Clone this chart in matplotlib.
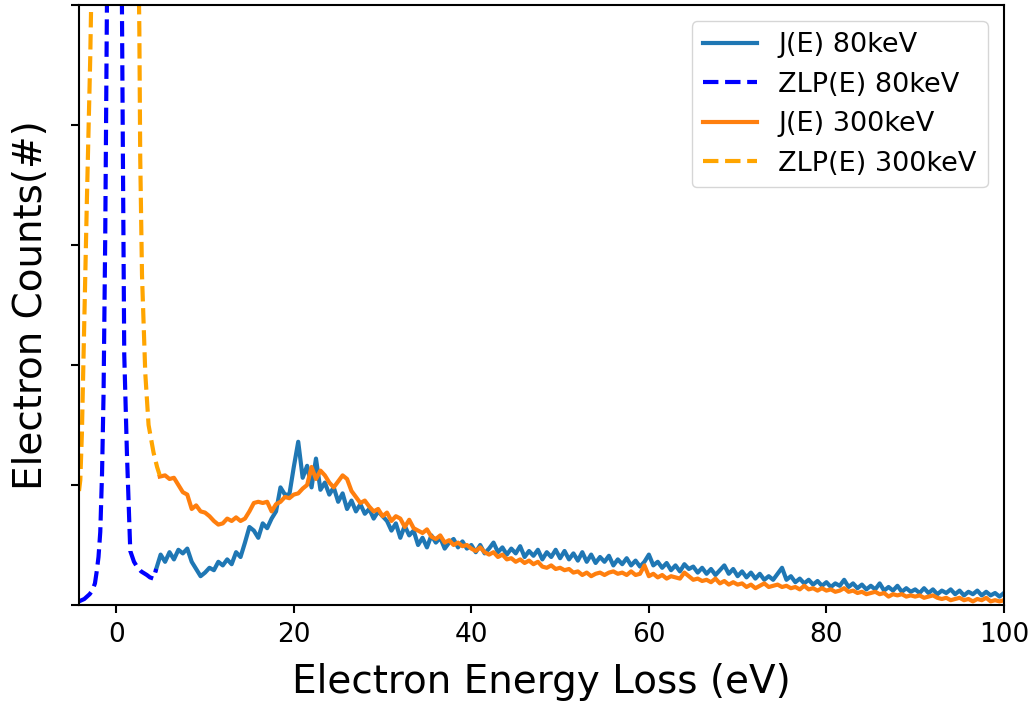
import matplotlib
matplotlib.use("Agg")
import matplotlib.pyplot as plt
import numpy as np

# ---- data (y in arbitrary units; one y-tick = 1 unit) ----
j80_x = np.arange(4.5, 100.01, 0.5)
j80_y = [0.30, 0.42, 0.36, 0.44, 0.38, 0.46, 0.43, 0.47, 0.36, 0.30,
         0.24, 0.27, 0.31, 0.29, 0.36, 0.33, 0.38, 0.34, 0.44, 0.40,
         0.52, 0.65, 0.62, 0.56, 0.68, 0.64, 0.72, 0.78, 0.98, 0.92,
         0.92, 1.15, 1.36, 1.06, 1.16, 0.98, 1.22, 0.96, 1.02, 0.92,
         0.98, 0.86, 0.93, 0.80, 0.87, 0.78, 0.84, 0.76, 0.80, 0.72,
         0.78, 0.74, 0.70, 0.62, 0.68, 0.56, 0.66, 0.58, 0.62, 0.50,
         0.56, 0.48, 0.58, 0.52, 0.56, 0.47, 0.52, 0.55, 0.48, 0.53,
         0.47, 0.50, 0.44, 0.50, 0.43, 0.47, 0.52, 0.44, 0.48, 0.42,
         0.47, 0.43, 0.49, 0.40, 0.45, 0.41, 0.46, 0.38, 0.44, 0.40,
         0.46, 0.39, 0.45, 0.38, 0.43, 0.37, 0.44, 0.36, 0.42, 0.35,
         0.40, 0.36, 0.41, 0.33, 0.38, 0.34, 0.39, 0.33, 0.37, 0.32,
         0.36, 0.42, 0.33, 0.36, 0.31, 0.35, 0.29, 0.33, 0.28, 0.34,
         0.30, 0.32, 0.27, 0.31, 0.26, 0.30, 0.25, 0.29, 0.33, 0.26,
         0.30, 0.24, 0.28, 0.23, 0.27, 0.22, 0.26, 0.21, 0.24, 0.21,
         0.26, 0.31, 0.21, 0.24, 0.19, 0.22, 0.18, 0.21, 0.17, 0.20,
         0.16, 0.19, 0.15, 0.18, 0.16, 0.21, 0.15, 0.18, 0.14, 0.17,
         0.13, 0.16, 0.13, 0.18, 0.12, 0.15, 0.12, 0.16, 0.11, 0.14,
         0.11, 0.13, 0.10, 0.14, 0.10, 0.13, 0.09, 0.12, 0.10, 0.13,
         0.09, 0.12, 0.08, 0.11, 0.09, 0.12, 0.08, 0.11, 0.08, 0.10,
         0.07, 0.10]

zlp80_x = [-4.2, -3.6, -3.0, -2.7, -2.4, -2.2, -2.0, -1.8, -1.6, -1.43,
           -1.24, -1.05, -0.8, -0.2, 0.4, 0.64, 0.75, 0.9, 1.2, 1.58,
           2.0, 2.33, 2.8, 3.45, 3.8, 4.2, 4.5]
zlp80_y = [0.03, 0.05, 0.09, 0.12, 0.18, 0.28, 0.40, 0.61, 1.10, 1.76,
           3.08, 5.0, 8.0, 14.0, 8.0, 5.0, 3.73, 2.09, 1.27, 0.45,
           0.36, 0.32, 0.28, 0.25, 0.23, 0.22, 0.30]

j300_x = np.concatenate([[4.9], np.arange(5.5, 100.01, 0.5)])
j300_y = [1.07, 1.08, 1.05, 1.06, 1.00, 0.94, 0.92, 0.80, 0.83, 0.78,
          0.77, 0.74, 0.70, 0.67, 0.68, 0.72, 0.70, 0.73, 0.70, 0.72,
          0.78, 0.85, 0.86, 0.85, 0.86, 0.78, 0.84, 0.86, 0.90, 0.89,
          0.92, 0.93, 0.97, 1.00, 1.15, 1.05, 1.12, 1.08, 1.02, 0.98,
          1.03, 1.08, 1.05, 0.95, 0.90, 0.85, 0.87, 0.82, 0.78, 0.80,
          0.74, 0.77, 0.70, 0.74, 0.72, 0.65, 0.71, 0.64, 0.62, 0.60,
          0.63, 0.57, 0.55, 0.58, 0.52, 0.54, 0.50, 0.52, 0.49, 0.50,
          0.47, 0.45, 0.48, 0.44, 0.42, 0.44, 0.40, 0.42, 0.38, 0.39,
          0.36, 0.38, 0.35, 0.37, 0.34, 0.36, 0.32, 0.31, 0.33, 0.30,
          0.31, 0.29, 0.30, 0.27, 0.28, 0.25, 0.27, 0.24, 0.26, 0.27,
          0.25, 0.27, 0.28, 0.26, 0.27, 0.25, 0.28, 0.25, 0.26, 0.33,
          0.24, 0.26, 0.23, 0.25, 0.22, 0.24, 0.23, 0.22, 0.27, 0.24,
          0.21, 0.22, 0.20, 0.21, 0.19, 0.22, 0.18, 0.20, 0.17, 0.19,
          0.17, 0.18, 0.15, 0.17, 0.14, 0.16, 0.18, 0.15, 0.16, 0.17,
          0.15, 0.16, 0.14, 0.15, 0.13, 0.16, 0.13, 0.14, 0.12, 0.14,
          0.12, 0.13, 0.11, 0.12, 0.14, 0.11, 0.12, 0.10, 0.11, 0.09,
          0.10, 0.11, 0.09, 0.10, 0.07, 0.09, 0.08, 0.09, 0.07, 0.08,
          0.07, 0.08, 0.06, 0.07, 0.08, 0.06, 0.05, 0.06, 0.04, 0.05,
          0.06, 0.04, 0.05, 0.03, 0.05, 0.04, 0.06, 0.03, 0.04, 0.03,
          0.04]

zlp300_x = [-4.2, -4.05, -3.87, -3.68, -3.3, -2.93, -2.6, -0.1, 2.4, 2.6,
            2.7, 2.9, 3.27, 3.64, 4.2, 4.6, 4.9]
zlp300_y = [0.95, 1.04, 1.43, 2.09, 3.4, 4.56, 6.0, 15.0, 6.0, 4.8,
            3.73, 2.75, 1.93, 1.5, 1.27, 1.15, 1.08]

labels = ["J(E) 80keV", "ZLP(E) 80keV", "J(E) 300keV", "ZLP(E) 300keV"]
x_ticks = [0, 20, 40, 60, 80, 100]
y_ticks = [0, 1, 2, 3, 4, 5]

# ---- plot ----
fig = plt.figure(figsize=(10.35, 7.03), dpi=100)
ax = fig.add_axes([0.0763, 0.1394, 0.8937, 0.8536])

lw = 3.0
ax.plot(j80_x, j80_y, color="#1f77b4", lw=lw, label=labels[0])
ax.plot(zlp80_x, zlp80_y, color="blue", lw=lw, ls="--", label=labels[1])
ax.plot(j300_x, j300_y, color="#ff7f0e", lw=lw, label=labels[2])
ax.plot(zlp300_x, zlp300_y, color="orange", lw=lw, ls="--", label=labels[3])

ax.set_xlim(-4.2, 100)
ax.set_ylim(0, 5)
ax.set_xticks(x_ticks)
ax.set_yticks(y_ticks)
ax.set_yticklabels([])
ax.tick_params(axis="both", labelsize=19, width=1.5, length=6, pad=6)
for s in ax.spines.values():
    s.set_linewidth(1.5)

ax.set_xlabel("Electron Energy Loss (eV)", fontsize=28, labelpad=11)
ax.set_ylabel("Electron Counts(#)", fontsize=28, labelpad=9)

ax.legend(loc="upper right", fontsize=19.5, handlelength=2.0,
          borderaxespad=0.6)

fig.savefig("out.png", dpi=100)
